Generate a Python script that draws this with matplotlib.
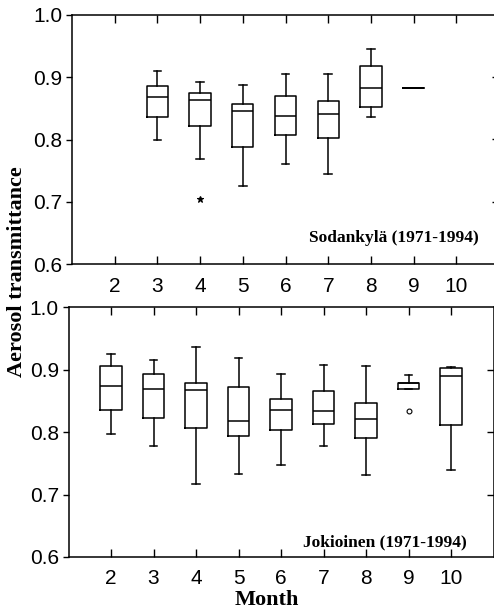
import numpy as np
import matplotlib.pyplot as plt

# Sodankyla, months 3..9
sod_months = [3, 4, 5, 6, 7, 8, 9]
sod_whislo = [0.800, 0.769, 0.726, 0.760, 0.745, 0.836, 0.882]
sod_q1 = [0.836, 0.821, 0.788, 0.808, 0.803, 0.853, 0.882]
sod_med = [0.869, 0.864, 0.845, 0.838, 0.841, 0.883, 0.882]
sod_q3 = [0.886, 0.874, 0.857, 0.870, 0.862, 0.918, 0.882]
sod_whishi = [0.910, 0.893, 0.887, 0.906, 0.905, 0.946, 0.882]
sod_fliers = {4: [0.704]}

# Jokioinen, months 2..10
jok_months = [2, 3, 4, 5, 6, 7, 8, 9, 10]
jok_whislo = [0.797, 0.777, 0.717, 0.733, 0.747, 0.777, 0.732, 0.869, 0.740]
jok_q1 = [0.836, 0.823, 0.807, 0.794, 0.803, 0.813, 0.790, 0.869, 0.812]
jok_med = [0.874, 0.869, 0.867, 0.818, 0.836, 0.833, 0.821, 0.879, 0.890]
jok_q3 = [0.905, 0.893, 0.878, 0.872, 0.853, 0.865, 0.846, 0.879, 0.903]
jok_whishi = [0.925, 0.916, 0.936, 0.919, 0.893, 0.908, 0.906, 0.891, 0.904]
jok_fliers = {9: [0.834]}

xticks = [2, 3, 4, 5, 6, 7, 8, 9, 10]
yticks = [0.6, 0.7, 0.8, 0.9, 1.0]

plt.rcParams['font.family'] = ['Liberation Sans', 'DejaVu Sans']
SERIF = ['Liberation Serif', 'DejaVu Serif']


def make_stats(months, lo, q1, med, q3, hi, fliers):
    stats = []
    for i, m in enumerate(months):
        stats.append(dict(whislo=lo[i], q1=q1[i], med=med[i], q3=q3[i],
                          whishi=hi[i], fliers=fliers.get(m, [])))
    return stats


def draw_panel(ax, months, stats, marker, label, lx, ly):
    lp = dict(color='black', linewidth=1.1)
    ax.bxp(stats, positions=months, widths=0.5, capwidths=0.18,
           boxprops=lp, whiskerprops=lp, capprops=lp, medianprops=lp,
           flierprops=dict(marker=marker, markersize=5 if marker == '*' else 3.5,
                           markerfacecolor='black' if marker == '*' else 'white',
                           markeredgecolor='black', markeredgewidth=0.8),
           manage_ticks=False)
    ax.set_xlim(1, 11)
    ax.set_ylim(0.6, 1.0)
    ax.set_xticks(xticks)
    ax.set_yticks(yticks)
    ax.set_yticklabels(['%.1f' % t for t in yticks])
    ax.tick_params(axis='x', direction='in', top=True, length=6, width=1.0,
                   labelsize=15, pad=9)
    ax.tick_params(axis='y', direction='out', length=4, width=1.0,
                   labelsize=15, pad=3)
    sec = ax.secondary_yaxis('right')
    sec.set_yticks([0.7, 0.8, 0.9])
    sec.tick_params(direction='in', length=5, width=1.0, labelright=False)
    for s in ax.spines.values():
        s.set_linewidth(1.1)
    ax.text(lx, ly, label, ha='right', va='center', fontsize=12.5,
            fontweight='bold', family=SERIF)


fig = plt.figure(figsize=(4.94, 6.11), dpi=100)
W, H = 494.0, 611.0
ax1 = fig.add_axes([72 / W, 1 - 264 / H, 427 / W, 249 / H])
ax2 = fig.add_axes([68.5 / W, 1 - 557 / H, 425 / W, 250 / H])

draw_panel(ax1, sod_months,
           make_stats(sod_months, sod_whislo, sod_q1, sod_med, sod_q3, sod_whishi, sod_fliers),
           '*', 'Sodankylä (1971-1994)', 10.53, 0.642)
draw_panel(ax2, jok_months,
           make_stats(jok_months, jok_whislo, jok_q1, jok_med, jok_q3, jok_whishi, jok_fliers),
           'o', 'Jokioinen (1971-1994)', 10.38, 0.624)

fig.text(17 / W, 1 - 272 / H, 'Aerosol transmittance', rotation=90,
         ha='center', va='center', fontsize=16, fontweight='bold', family=SERIF)
fig.text(267 / W, 1 - 600 / H, 'Month', ha='center', va='center',
         fontsize=16, fontweight='bold', family=SERIF)

fig.savefig('out.png', dpi=100)
